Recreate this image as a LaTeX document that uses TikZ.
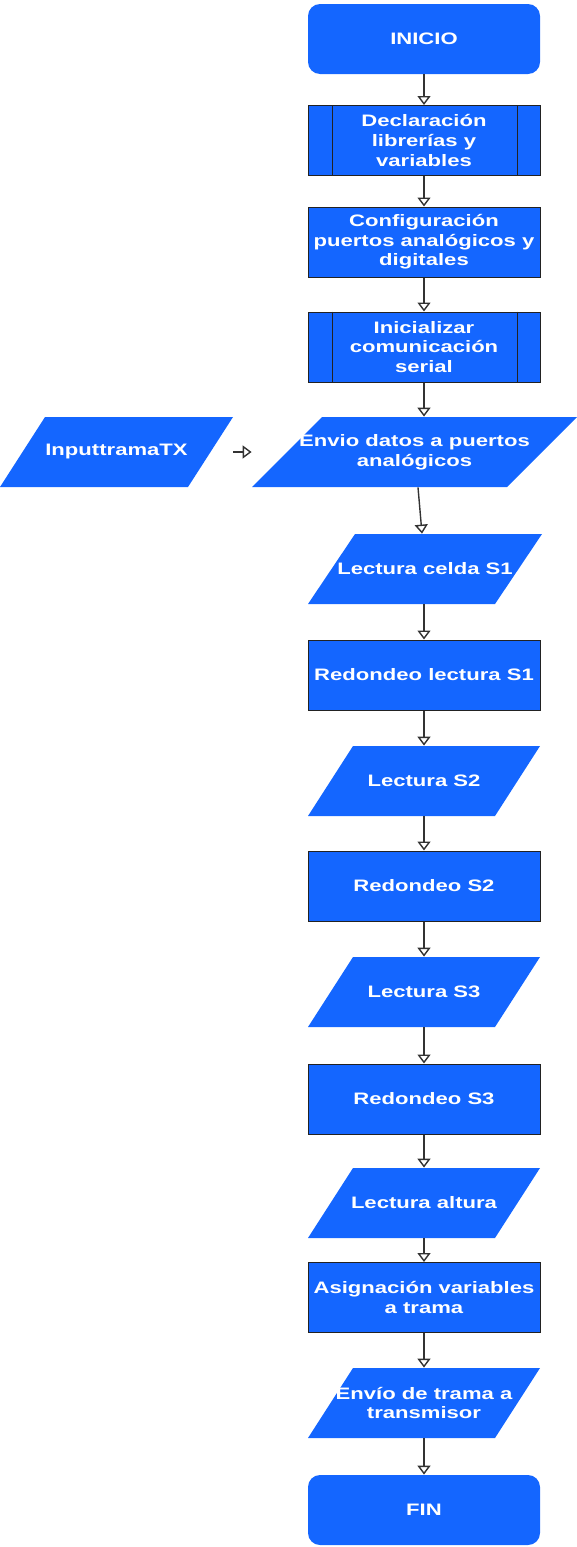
\documentclass[tikz,border=0pt]{standalone}
\usepackage{fontspec}
\usepackage{tikz}
\usepackage{xcolor}
\usetikzlibrary{arrows.meta}
\newfontfamily\diagfont[FakeStretch=1.33]{Liberation Sans}
\definecolor{azul}{RGB}{20,102,255}
\definecolor{borde}{RGB}{34,34,34}
\definecolor{gris}{RGB}{51,51,51}

\begin{document}
\begin{tikzpicture}[x=0.5pt,y=-0.5pt,
    caja/.style={text=white, align=center,
        font=\diagfont\bfseries\fontsize{8.3}{9.8}\selectfont, inner sep=1pt, minimum height=35pt},
    inicio/.style={caja, fill=azul, rectangle, rounded corners=6pt, minimum width=116pt},
    proceso/.style={caja, fill=azul, rectangle, draw=borde, line width=0.5pt, minimum width=116pt},
    datos/.style args={#1/#2}{caja, rectangle, minimum width=#1,
        path picture={\fill[azul] ([xshift=#2]path picture bounding box.north west)
            -- (path picture bounding box.north east)
            -- ([xshift=-#2]path picture bounding box.south east)
            -- (path picture bounding box.south west) -- cycle;}},
    flecha/.style={draw=gris, line width=0.7pt, -{Triangle[open,length=4.5pt,width=6.5pt]}}]
    \useasboundingbox (0,0) rectangle (577,1547);
    \node[inicio] (ini) at (424,39) {INICIO};
    \node[proceso] (decl) at (424,140.5) {Declaración\\librerías y\\variables};
    \node[proceso] (conf) at (424,242) {Configuración\\puertos analógicos y\\digitales};
    \node[proceso] (inic) at (424,347) {Inicializar\\comunicación\\serial};
    \node[datos={162.5pt/35pt}] (envio) at (414.5,452) {Envio datos a puertos\\analógicos};
    \node[datos={116.5pt/22.5pt}] (input) at (116.5,452) {InputtramaTX};
    \node[datos={117pt/23.5pt}] (lec1) at (425,569) {Lectura celda S1};
    \node[proceso] (red1) at (424,675) {Redondeo lectura S1};
    \node[datos={116pt/22.5pt}] (lec2) at (424,781) {Lectura S2};
    \node[proceso] (red2) at (424,886) {Redondeo S2};
    \node[datos={116pt/22.5pt}] (lec3) at (424,992) {Lectura S3};
    \node[proceso] (red3) at (424,1099) {Redondeo S3};
    \node[datos={116pt/22.5pt}] (lecalt) at (424,1203) {Lectura altura};
    \node[proceso] (asig) at (424,1297.5) {Asignación variables\\a trama};
    \node[datos={116pt/22.5pt}] (envtr) at (424,1403) {Envío de trama a\\transmisor};
    \node[inicio] (fin) at (424,1510) {FIN};
    % lineas de subproceso
    \foreach \n in {decl,inic} {
        \draw[borde, line width=0.5pt] ([xshift=12.5pt]\n.north west) -- ([xshift=12.5pt]\n.south west);
        \draw[borde, line width=0.5pt] ([xshift=-11.5pt]\n.north east) -- ([xshift=-11.5pt]\n.south east);
    }
    % flechas
    \draw[flecha] (ini) -- (decl);
    \draw[flecha] (decl) -- (conf);
    \draw[flecha] (conf) -- (inic);
    \draw[flecha] (inic.south) -- (inic.south |- envio.north);
    \draw[flecha] (input.east) -- (envio.west);
    \draw[flecha] ([xshift=1.75pt]envio.south) -- ([xshift=-1.5pt]lec1.north);
    \draw[flecha] (lec1.south -| red1.north) -- (red1);
    \draw[flecha] (red1) -- (lec2);
    \draw[flecha] (lec2) -- (red2);
    \draw[flecha] (red2) -- (lec3);
    \draw[flecha] (lec3) -- (red3);
    \draw[flecha] (red3) -- (lecalt);
    \draw[flecha] (lecalt) -- (asig);
    \draw[flecha] (asig) -- (envtr);
    \draw[flecha] (envtr) -- (fin);
\end{tikzpicture}
\end{document}
